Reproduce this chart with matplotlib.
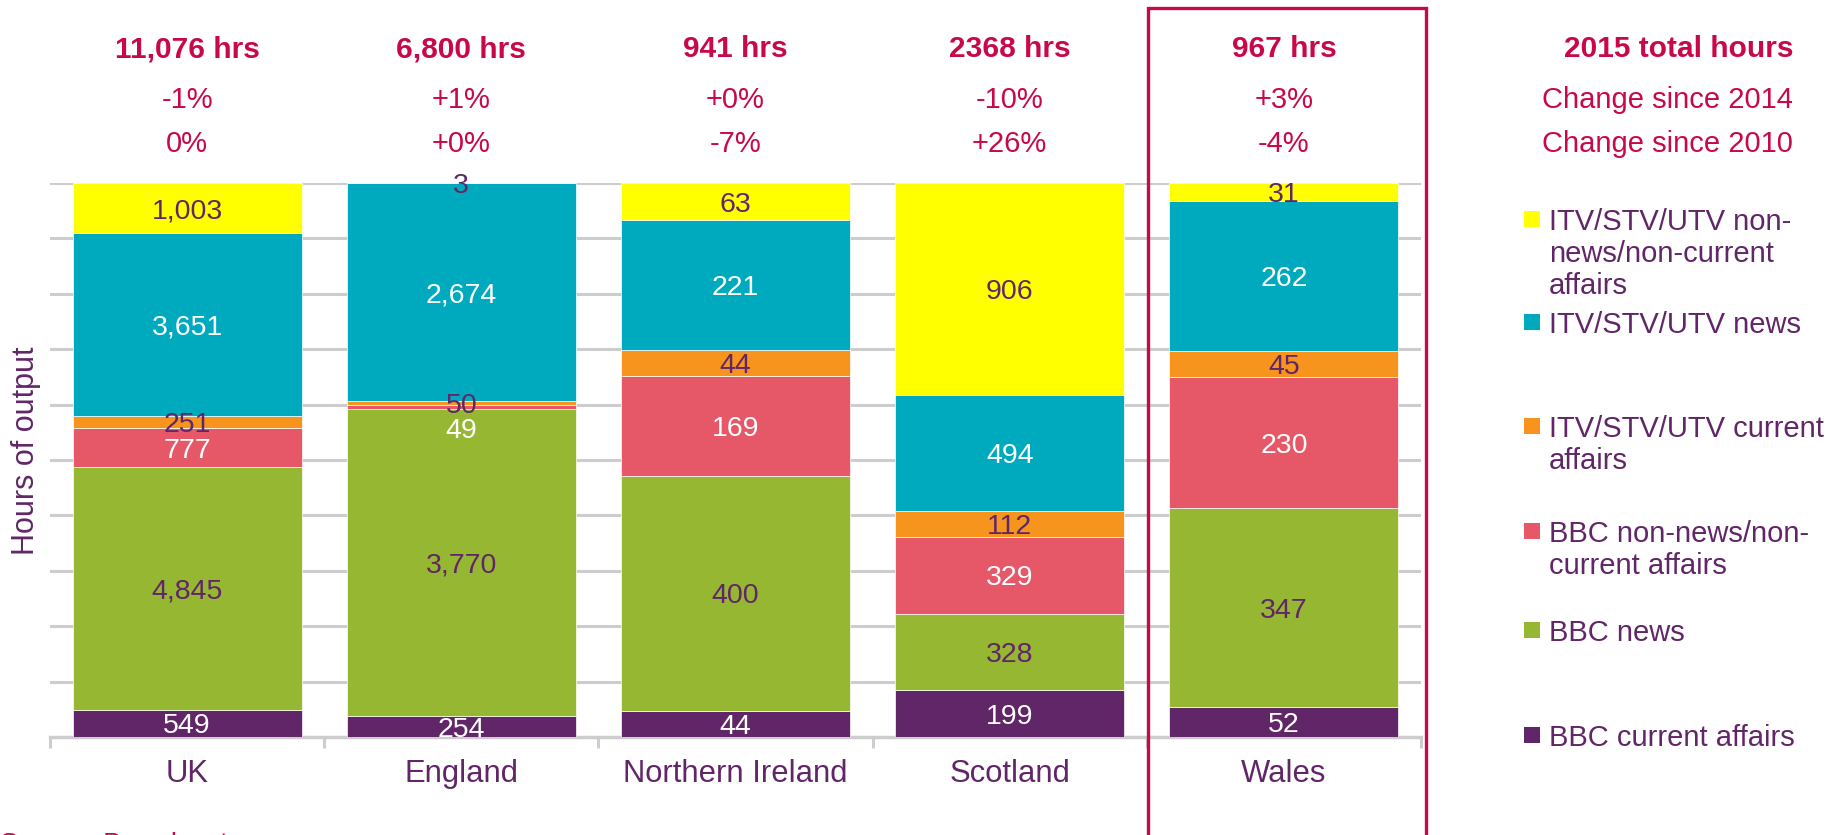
import matplotlib
matplotlib.use("Agg")
import matplotlib.pyplot as plt
import matplotlib.transforms as mtransforms
from matplotlib.patches import Rectangle
import numpy as np

plt.rcParams['font.family'] = ['Liberation Sans', 'DejaVu Sans']

# ---------------- data ----------------
categories = ["UK", "England", "Northern Ireland", "Scotland", "Wales"]
series_names = [
    "BBC current affairs",
    "BBC news",
    "BBC non-news/non-current affairs",
    "ITV/STV/UTV current affairs",
    "ITV/STV/UTV news",
    "ITV/STV/UTV non-news/non-current affairs",
]
bbc_current_affairs = [549, 254, 44, 199, 52]
bbc_news = [4845, 3770, 400, 328, 347]
bbc_non_news = [777, 49, 169, 329, 230]
itv_current_affairs = [251, 50, 44, 112, 45]
itv_news = [3651, 2674, 221, 494, 262]
itv_non_news = [1003, 3, 63, 906, 31]
series_values = [bbc_current_affairs, bbc_news, bbc_non_news,
                 itv_current_affairs, itv_news, itv_non_news]

total_hours = ["11,076 hrs", "6,800 hrs", "941 hrs", "2368 hrs", "967 hrs"]
change_2014 = ["-1%", "+1%", "+0%", "-10%", "+3%"]
change_2010 = ["0%", "+0%", "-7%", "+26%", "-4%"]

legend_labels = [
    "ITV/STV/UTV non-\nnews/non-current\naffairs",
    "ITV/STV/UTV news",
    "ITV/STV/UTV current\naffairs",
    "BBC non-news/non-\ncurrent affairs",
    "BBC news",
    "BBC current affairs",
]

# ---------------- style ----------------
colors = ["#612667", "#96B731", "#E65868", "#F7941E", "#00AABE", "#FFFF00"]
label_colors = ["white", "#612667", "white", "#612667", "white", "#612667"]
RED = "#C8084A"
PURPLE = "#612667"
GRID = "#CDCDCD"

W, H = 1829, 835
fig = plt.figure(figsize=(W / 100, H / 100), dpi=100)
ax_left, ax_right, ax_top, ax_bottom = 50, 1421, 183, 737
ax = fig.add_axes([ax_left / W, (H - ax_bottom) / H,
                   (ax_right - ax_left) / W, (ax_bottom - ax_top) / H])

vals = np.array(series_values, dtype=float)
totals = vals.sum(axis=0)
shares = vals / totals
x = np.arange(len(categories))
bar_w = 0.835

# label offsets in points (manual nudges seen in the reference)
label_offsets = {(2, 1): -15}

bottom = np.zeros(len(categories))
for i, (name, share) in enumerate(zip(series_names, shares)):
    ax.bar(x, share, bar_w, bottom=bottom, color=colors[i],
           edgecolor="white", linewidth=0.5, zorder=3, label=name)
    for j in range(len(categories)):
        yc = bottom[j] + share[j] / 2
        dy = label_offsets.get((i, j), 0)
        ax.annotate(f"{int(vals[i, j]):,}", (x[j], yc), xytext=(0, dy),
                    textcoords="offset points", ha="center",
                    va="center_baseline", fontsize=20.5,
                    color=label_colors[i], zorder=5)
    bottom += share

ax.set_xlim(-0.5, len(categories) - 0.5)
ax.set_ylim(0, 1)
ax.set_yticks(np.arange(0.1, 1.01, 0.1))
ax.yaxis.grid(True, color=GRID, linewidth=2.2, zorder=0)
ax.set_axisbelow(True)
ax.tick_params(axis="y", length=0, labelleft=False)
for s in ["top", "right", "left"]:
    ax.spines[s].set_visible(False)
ax.spines["bottom"].set_color(GRID)
ax.spines["bottom"].set_linewidth(2.5)
ax.set_xticks(x)
ax.set_xticklabels(categories, fontsize=22.3, color=PURPLE)
ax.set_xticks(np.arange(-0.5, len(categories)), minor=True)
ax.tick_params(axis="x", which="major", length=0, pad=16)
ax.tick_params(axis="x", which="minor", length=8, width=2.2, color=GRID)

fig.text(26 / W, (H - 451) / H, "Hours of output", rotation=90,
         ha="center", va="center", fontsize=22, color=PURPLE)

# header rows
tr = mtransforms.blended_transform_factory(ax.transData, fig.transFigure)
rows = [(total_hours, 57, "bold", 21.5), (change_2014, 108, "normal", 21),
        (change_2010, 152, "normal", 21)]
for texts, ybase, weight, fs in rows:
    for j, t in enumerate(texts):
        ax.text(x[j], (H - ybase) / H, t, transform=tr, ha="center",
                va="baseline", fontsize=fs, fontweight=weight, color=RED)
row_titles = ["2015 total hours", "Change since 2014", "Change since 2010"]
for (texts, ybase, weight, fs), title in zip(rows, row_titles):
    fig.text(1793 / W, (H - ybase) / H, title, ha="right", va="baseline",
             fontsize=fs, fontweight=weight, color=RED)

# legend (manual, following reference layout)
legend_y = [219, 322, 426, 531, 630, 735]
legend_colors = colors[::-1]
line_h = 32
for lbl, col, yc in zip(legend_labels, legend_colors, legend_y):
    fig.add_artist(Rectangle((1524 / W, (H - yc - 8) / H), 16 / W, 16 / H,
                             transform=fig.transFigure, facecolor=col,
                             edgecolor="none"))
    for k, line in enumerate(lbl.split("\n")):
        fig.text(1549 / W, (H - yc - k * line_h) / H, line, ha="left",
                 va="center_baseline", fontsize=21, color=PURPLE)

# highlight box around Wales
fig.add_artist(Rectangle((1148 / W, -0.05), (1426 - 1148) / W,
                         (H - 8) / H + 0.05, transform=fig.transFigure,
                         fill=False, edgecolor=RED, linewidth=2.4))

# source (cut off at the bottom edge as in the reference)
fig.text(0, (H - 832) / H, "Source: Broadcasters", ha="left", va="top",
         fontsize=20, color=RED)

fig.savefig("out.png", dpi=100)
